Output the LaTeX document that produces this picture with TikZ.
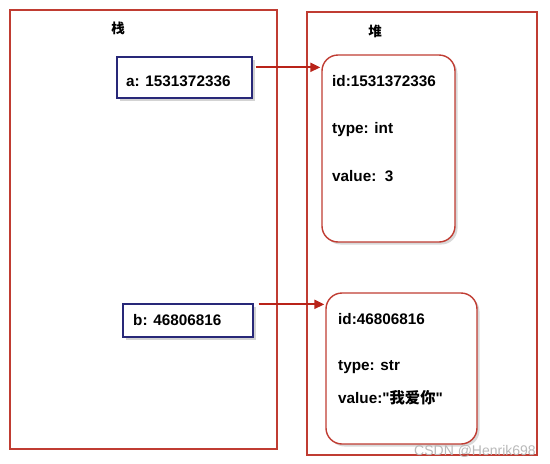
\documentclass[tikz,border=0pt]{standalone}
\usepackage{fontspec}
\setmainfont{Liberation Sans}[Ligatures=TeXOff]
\newfontfamily\cjk{Noto Sans CJK SC}
\usetikzlibrary{arrows.meta,shadows,calc}
\definecolor{framered}{RGB}{192,60,50}
\definecolor{arrred}{RGB}{185,35,25}
\definecolor{navy}{RGB}{40,40,120}
\tikzset{
  frame/.style={draw=framered,line width=1.4pt,inner sep=0pt},
  stackbox/.style={draw=navy,line width=1.3pt,fill=white,inner sep=0pt,
    drop shadow={shadow xshift=2.5pt,shadow yshift=-2.5pt,opacity=0.35}},
  heapbox/.style={draw=framered,line width=1.4pt,fill=white,rounded corners=16pt,inner sep=0pt,
    drop shadow={shadow xshift=2.5pt,shadow yshift=-2.5pt,opacity=0.3}},
  lbl/.style={anchor=west,inner sep=0pt,font=\fontsize{15.3}{17}\selectfont\bfseries},
  title/.style={inner sep=0pt,font=\fontsize{13.5}{15}\selectfont\cjk\bfseries},
  arr/.style={draw=arrred,line width=2.2pt,-{Triangle[length=10pt,width=9pt]}},
}
\begin{document}
\begin{tikzpicture}[x=1pt,y=-1pt]
\useasboundingbox (0,0) rectangle (550,464);
% frames
\node[frame,minimum width=267pt,minimum height=439pt] (stack) at (143.5,229.5) {};
\node[frame,minimum width=230pt,minimum height=443pt] (heap) at (422,233.5) {};
\node[title] (tstack) at (118,28) {栈};
\node[title] (theap) at (375,31) {堆};
% stack boxes
\node[stackbox,minimum width=135pt,minimum height=41pt] (a) at (184.5,77.5) {};
\node[lbl] (atext) at (126,81) {a: 1531372336};
\node[stackbox,minimum width=130pt,minimum height=33pt] (b) at (188,320.5) {};
\node[lbl] (btext) at (133,320) {b: 46806816};
% heap boxes
\node[heapbox,minimum width=133pt,minimum height=187pt] (h1) at (388.5,148.5) {};
\node[lbl] (h1id) at (332,81) {id:1531372336};
\node[lbl] (h1type) at (332,130) {type: int};
\node[lbl] (h1val) at (332,176) {value:\ \ 3};
\node[heapbox,minimum width=151pt,minimum height=151pt] (h2) at (401.5,368.5) {};
\node[lbl] (h2id) at (338,319) {id:46806816};
\node[lbl] (h2type) at (338,367) {type: str};
\node[lbl] (h2val) at (338,398) {value:"{\cjk 我爱你}"};
% arrows
\coordinate (a0) at ($(a.north east)+(3,11)$);
\draw[arr] (a0) -- ($(a0 -| h1.west)+(-1,0)$);
\coordinate (b0) at ($(b.north east)+(5,1)$);
\draw[arr] (b0) -- ($(b0 -| h2.west)+(-1,0)$);
% watermark
\node[anchor=east,inner sep=0pt,text=gray!55,font=\fontsize{14}{16}\selectfont] (wm) at (536,451) {CSDN @Henrik698};
\end{tikzpicture}
\end{document}
